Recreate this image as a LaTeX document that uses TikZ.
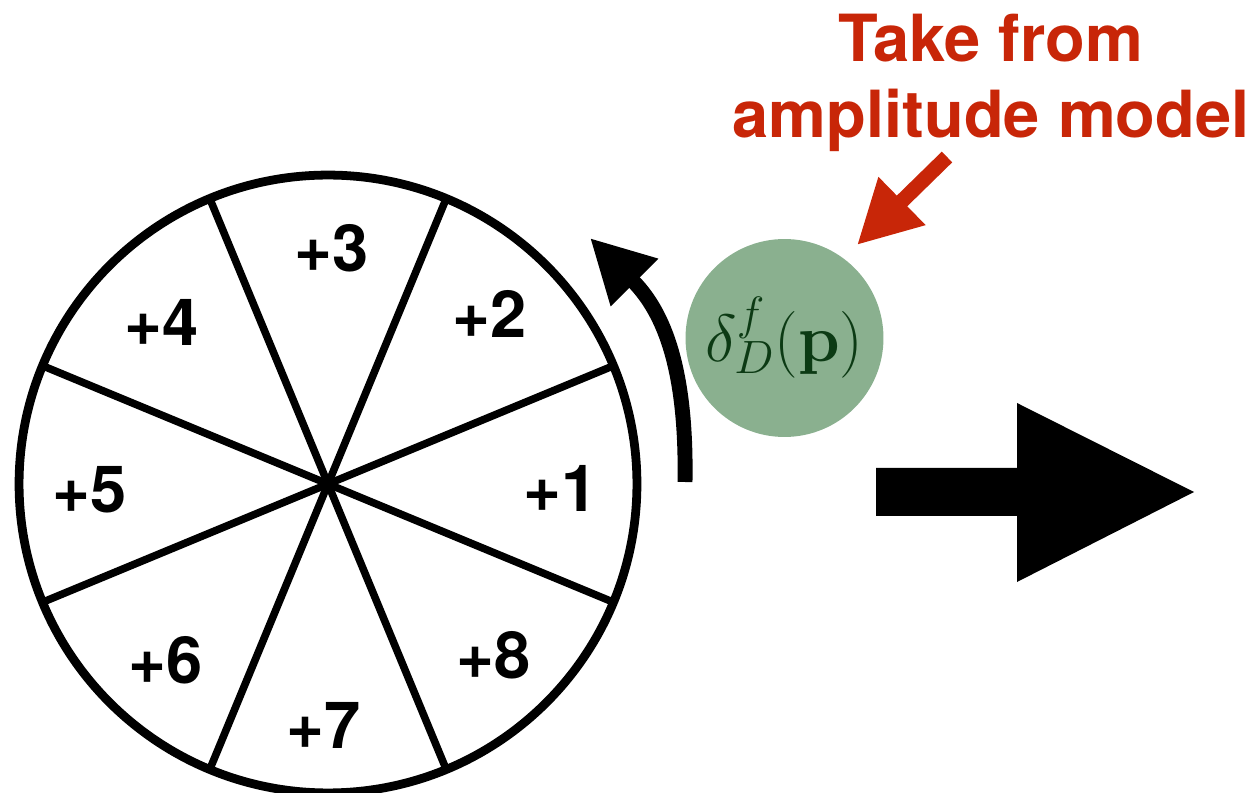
\RequirePackage{fix-cm}
\documentclass[tikz,border=0pt]{standalone}
\usepackage[no-math]{fontspec}
\newfontfamily\helv{TeX Gyre Heros}
\usetikzlibrary{arrows.meta,calc}
\definecolor{redtxt}{RGB}{200,38,8}
\definecolor{ballgreen}{RGB}{138,176,143}
\definecolor{darkgreen}{RGB}{12,58,20}
\begin{document}
\begin{tikzpicture}[x=0.02cm,y=-0.02cm,
  lbl/.style={font=\helv\bfseries\fontsize{37}{43.7}\selectfont, inner sep=0pt},
  rim/.style={line width=5pt},
  spoke/.style={line width=4.3pt},
  bigtip/.style={-{Triangle[length=1.26cm,width=1.26cm]}}]
\useasboundingbox (0,0) rectangle (1254,793);
% wheel
\coordinate (c) at (328,484);
\draw[rim] (c) circle[radius=6.18cm];
\foreach \a in {22.5,67.5,112.5,157.5}
  \draw[spoke] ($(c)+(\a:6.18cm)$) -- ($(c)+(\a+180:6.18cm)$);
\node[lbl] (l1) at (561,488) {+1};
\node[lbl] (l2) at (490,314) {+2};
\node[lbl] (l3) at (332,248) {+3};
\node[lbl] (l4) at (162,322) {+4};
\node[lbl] (l5) at (90,490) {+5};
\node[lbl] (l6) at (166,660) {+6};
\node[lbl] (l7) at (324,725) {+7};
\node[lbl] (l8) at (494,655) {+8};
% rotation arrow
\coordinate (cs) at (685,482);
\coordinate (ct) at (590,238);
\draw[line width=8.5pt, bigtip] (cs) .. controls (687,360) and (660,308) .. (ct);
% green ball
\node[circle, fill=ballgreen, minimum size=3.96cm, inner sep=0pt, text=darkgreen,
      font=\fontsize{38}{42}\selectfont] (delta) at (784.5,338) {$\delta^f_D(\mathbf{p})$};
% red label and arrow
\node[lbl, text=redtxt, align=center] (take) at (991,83) {Take from\\amplitude model};
\coordinate (rt) at (947,157);
\coordinate (rh) at (857,245);
\draw[redtxt, line width=8.5pt, bigtip] (rt) -- (rh);
% big right arrow
\fill (876,468) -- (1017,468) -- (1017,403) -- (1194,492) -- (1017,582) -- (1017,516) -- (876,516) -- cycle;
\end{tikzpicture}
\end{document}
